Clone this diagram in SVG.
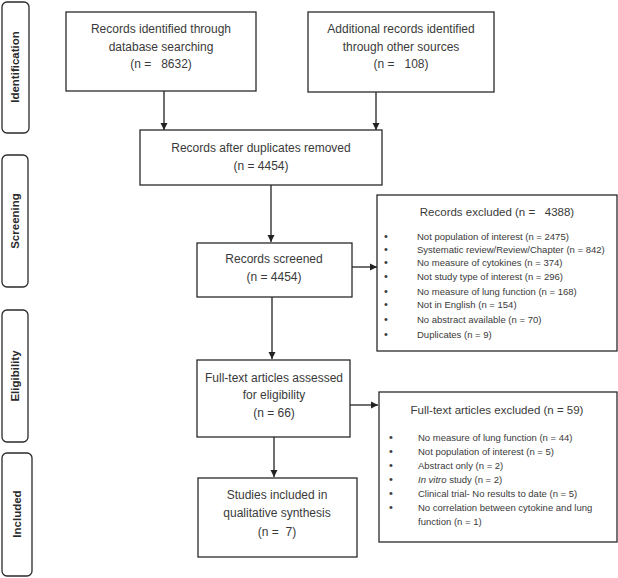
<svg xmlns="http://www.w3.org/2000/svg" width="618" height="578" viewBox="0 0 618 578">
<defs>
<marker id="ah" markerWidth="8" markerHeight="8" refX="7" refY="4" orient="auto" markerUnits="userSpaceOnUse">
<path d="M0,0.5 L7,4 L0,7.5 Z" fill="#222"/>
</marker>
</defs>
<style>
.box{fill:#fff;stroke:#2a2a2a;stroke-width:1.3}
.side{fill:#fff;stroke:#2a2a2a;stroke-width:1.3}
.t{font-family:"Liberation Sans",Arial,sans-serif;font-size:12px;fill:#3a3a3a;text-anchor:middle}
.ti{font-family:"Liberation Sans",Arial,sans-serif;font-size:11.5px;fill:#3a3a3a;text-anchor:middle}
.it{font-family:"Liberation Sans",Arial,sans-serif;font-size:9.5px;fill:#3a3a3a}
.b{font-family:"Liberation Sans",Arial,sans-serif;font-size:11px;fill:#3a3a3a}
.lab{font-family:"Liberation Sans",Arial,sans-serif;font-size:11.5px;font-weight:bold;fill:#2a2a2a;text-anchor:middle}
.c{stroke:#222;stroke-width:1.3;fill:none;marker-end:url(#ah)}
</style>
<rect width="618" height="578" fill="#fff"/>

<g id="stage-identification">
<rect class="side" x="2" y="2" width="27" height="131" rx="5"/>
<text class="lab" transform="translate(19,67) rotate(-90)">Identification</text>
</g>
<g id="stage-screening">
<rect class="side" x="2" y="155" width="26" height="132" rx="5"/>
<text class="lab" transform="translate(19,221) rotate(-90)">Screening</text>
</g>
<g id="stage-eligibility">
<rect class="side" x="2" y="310" width="26" height="132" rx="5"/>
<text class="lab" transform="translate(19,376) rotate(-90)">Eligibility</text>
</g>
<g id="stage-included">
<rect class="side" x="2" y="453" width="30" height="123" rx="5"/>
<text class="lab" transform="translate(21,514) rotate(-90)">Included</text>
</g>

<g id="connectors">
<line class="c" x1="164" y1="91" x2="164" y2="130"/>
<line class="c" x1="376" y1="92" x2="376" y2="130"/>
<line class="c" x1="271" y1="185" x2="271" y2="242"/>
<line class="c" x1="352" y1="267" x2="377" y2="267"/>
<line class="c" x1="272" y1="297" x2="272" y2="359"/>
<line class="c" x1="350" y1="405" x2="378" y2="405"/>
<line class="c" x1="274" y1="437" x2="274" y2="477"/>
</g>

<g id="n1">
<rect class="box" x="66" y="12" width="190" height="79"/>
<text class="t" x="161" y="33">Records identified through</text>
<text class="t" x="161" y="51">database searching</text>
<text class="t" x="161" y="68" xml:space="preserve">(n =   8632)</text>
</g>
<g id="n2">
<rect class="box" x="308" y="12" width="186" height="80"/>
<text class="t" x="401" y="33">Additional records identified</text>
<text class="t" x="401" y="51">through other sources</text>
<text class="t" x="401" y="68" xml:space="preserve">(n =   108)</text>
</g>
<g id="n3">
<rect class="box" x="140" y="130" width="242" height="55"/>
<text class="t" x="261" y="152">Records after duplicates removed</text>
<text class="t" x="261" y="170">(n = 4454)</text>
</g>
<g id="n4">
<rect class="box" x="197" y="243" width="155" height="54"/>
<text class="t" x="274" y="263">Records screened</text>
<text class="t" x="274" y="281">(n = 4454)</text>
</g>
<g id="n5">
<rect class="box" x="377" y="195" width="240" height="156"/>
<text class="ti" x="497" y="216" xml:space="preserve">Records excluded (n =   4388)</text>
<g class="b">
<text x="384" y="240">•</text><text x="384" y="253">•</text><text x="384" y="266">•</text><text x="384" y="280">•</text>
<text x="384" y="295">•</text><text x="384" y="308">•</text><text x="384" y="323">•</text><text x="384" y="338">•</text>
</g>
<text class="it" x="417" y="240">Not population of interest (n = 2475)</text>
<text class="it" x="417" y="253">Systematic review/Review/Chapter (n = 842)</text>
<text class="it" x="417" y="266">No measure of cytokines (n = 374)</text>
<text class="it" x="417" y="280">Not study type of interest (n = 296)</text>
<text class="it" x="417" y="295">No measure of lung function (n = 168)</text>
<text class="it" x="417" y="308">Not in English (n = 154)</text>
<text class="it" x="417" y="323">No abstract available (n = 70)</text>
<text class="it" x="417" y="338">Duplicates (n = 9)</text>
</g>
<g id="n6">
<rect class="box" x="197" y="360" width="153" height="77"/>
<text class="t" x="274" y="382">Full-text articles assessed</text>
<text class="t" x="274" y="399">for eligibility</text>
<text class="t" x="274" y="417">(n = 66)</text>
</g>
<g id="n7">
<rect class="box" x="379" y="392" width="238" height="150"/>
<text class="ti" x="497" y="414">Full-text articles excluded (n = 59)</text>
<g class="b">
<text x="389" y="441">•</text><text x="389" y="455">•</text><text x="389" y="469">•</text><text x="389" y="483">•</text>
<text x="389" y="497">•</text><text x="389" y="511">•</text>
</g>
<text class="it" x="418" y="441">No measure of lung function (n = 44)</text>
<text class="it" x="418" y="455">Not population of interest (n = 5)</text>
<text class="it" x="418" y="469">Abstract only (n = 2)</text>
<text class="it" x="418" y="483"><tspan font-style="italic">In vitro</tspan> study (n = 2)</text>
<text class="it" x="418" y="497">Clinical trial- No results to date (n = 5)</text>
<text class="it" x="418" y="511">No correlation between cytokine and lung</text>
<text class="it" x="418" y="525">function (n = 1)</text>
</g>
<g id="n8">
<rect class="box" x="198" y="478" width="159" height="79"/>
<text class="t" x="277" y="499">Studies included in</text>
<text class="t" x="277" y="517">qualitative synthesis</text>
<text class="t" x="277" y="536" xml:space="preserve">(n =  7)</text>
</g>
</svg>
